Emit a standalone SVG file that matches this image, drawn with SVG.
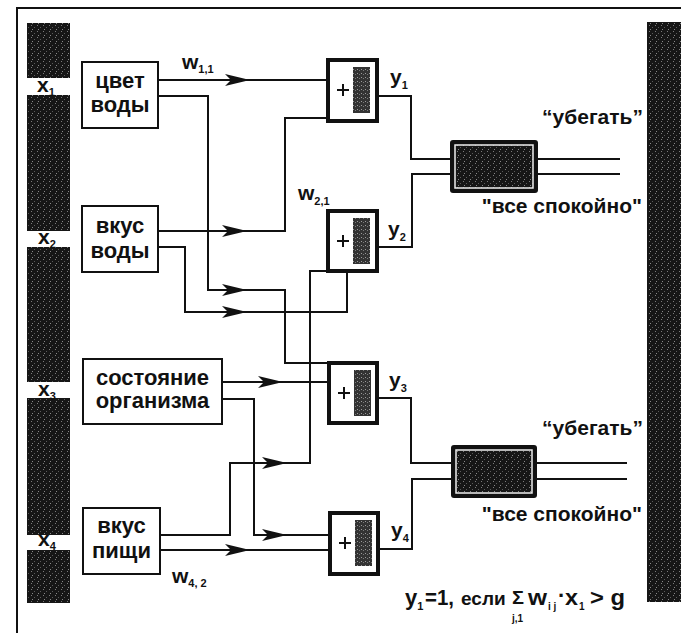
<svg xmlns="http://www.w3.org/2000/svg" width="681" height="633" viewBox="0 0 681 633">
<style>
.t{font-family:"Liberation Sans",Arial,Helvetica,sans-serif;font-weight:bold;fill:#111}
.lbl{font-size:22px;text-anchor:middle}
.big{font-size:21px}
.sub{font-size:11px}
.node{fill:#fff;stroke:#111;stroke-width:2}
.wire{fill:none;stroke:#111;stroke-width:2}
.sum{fill:#fff;stroke:#111;stroke-width:4}
.core{fill:url(#stip2)}
.bar{fill:url(#stip)}
.frame{fill:none;stroke:#111;stroke-width:2}
</style>
<defs>
<pattern id="stip" width="6" height="6" patternUnits="userSpaceOnUse">
<rect width="6" height="6" fill="#161616"/>
<rect x="1" y="1" width="1" height="1" fill="#7a7a7a"/>
<rect x="4" y="3" width="1" height="1" fill="#5a5a5a"/>
<rect x="2" y="5" width="1" height="1" fill="#888"/>
</pattern>
<pattern id="stip2" width="4" height="4" patternUnits="userSpaceOnUse">
<rect width="4" height="4" fill="#333"/>
<rect x="1" y="1" width="1" height="1" fill="#9a9a9a"/>
<rect x="3" y="2" width="1" height="1" fill="#7a7a7a"/>
</pattern>
<path id="arr" d="M0,0 L-25,-6 L-19,0 L-25,6 Z" fill="#111"/>
</defs>

<g id="frame">
<path class="frame" d="M17,633 V8 H681"/>
<rect class="bar" x="647" y="22" width="34" height="580"/>
</g>

<g id="inputs">
<rect class="bar" x="27" y="23" width="43" height="55"/>
<rect class="bar" x="27" y="95" width="43" height="136"/>
<rect class="bar" x="27" y="247" width="43" height="135"/>
<rect class="bar" x="27" y="398" width="43" height="137"/>
<rect class="bar" x="27" y="550" width="43" height="53"/>
<text class="t big" x="37" y="92">x<tspan class="sub" dy="4">1</tspan></text>
<text class="t big" x="38" y="244">x<tspan class="sub" dy="4">2</tspan></text>
<text class="t big" x="38" y="396">x<tspan class="sub" dy="4">3</tspan></text>
<text class="t big" x="38" y="546">x<tspan class="sub" dy="4">4</tspan></text>
</g>

<g id="connectors">
<path class="wire" d="M158,80 H328"/>
<path class="wire" d="M158,96 H208 V290 H285 V363 H329"/>
<path class="wire" d="M158,231 H285 V118 H328"/>
<path class="wire" d="M158,247 H185 V312 H347 V271"/>
<path class="wire" d="M222,382 H329"/>
<path class="wire" d="M222,399 H254 V535 H330"/>
<path class="wire" d="M160,535 H230 V463 H310 V271 H328"/>
<path class="wire" d="M160,550 H330"/>
<path class="wire" d="M377,96 H411 V159 H450"/>
<path class="wire" d="M377,247 H412 V174 H450"/>
<path class="wire" d="M377,398 H411 V463 H451"/>
<path class="wire" d="M378,549 H412 V479 H451"/>
<path class="wire" d="M538,159 H620 M538,174 H620"/>
<path class="wire" d="M537,463 H627 M537,479 H627"/>
<use href="#arr" x="250" y="80"/>
<use href="#arr" x="247" y="231"/>
<use href="#arr" x="247" y="290"/>
<use href="#arr" x="247" y="312"/>
<use href="#arr" x="283" y="382"/>
<use href="#arr" x="287" y="463"/>
<use href="#arr" x="287" y="535"/>
<use href="#arr" x="250" y="550"/>
<text class="t big" x="182" y="69">w<tspan class="sub" dy="4">1,1</tspan></text>
<text class="t big" x="298" y="200">w<tspan class="sub" dy="5">2,1</tspan></text>
<text class="t big" x="172" y="583">w<tspan class="sub" dy="4">4, 2</tspan></text>
</g>

<g id="n-color">
<rect class="node" x="82" y="62" width="76" height="66"/>
<text class="t lbl" x="120" y="88">цвет</text>
<text class="t lbl" x="120" y="112">воды</text>
</g>
<g id="n-taste-water">
<rect class="node" x="82" y="206" width="76" height="66"/>
<text class="t lbl" x="120" y="233">вкус</text>
<text class="t lbl" x="120" y="258">воды</text>
</g>
<g id="n-state">
<rect class="node" x="83" y="359" width="139" height="65"/>
<text class="t lbl" x="152.5" y="385">состояние</text>
<text class="t lbl" x="152.5" y="408">организма</text>
</g>
<g id="n-taste-food">
<rect class="node" x="83" y="508" width="77" height="66"/>
<text class="t lbl" x="121.5" y="533">вкус</text>
<text class="t lbl" x="121.5" y="558">пищи</text>
</g>

<g id="sum1">
<rect class="sum" x="328" y="60" width="49" height="61"/>
<rect class="core" x="353" y="67" width="17" height="46"/>
<path class="wire" d="M337,90 H349 M343,84 V96"/>
<text class="t big" x="390" y="84">y<tspan class="sub" dy="5">1</tspan></text>
</g>
<g id="sum2">
<rect class="sum" x="328" y="211" width="49" height="60"/>
<rect class="core" x="353" y="218" width="17" height="46"/>
<path class="wire" d="M337,241 H349 M343,235 V247"/>
<text class="t big" x="388" y="236">y<tspan class="sub" dy="5">2</tspan></text>
</g>
<g id="sum3">
<rect class="sum" x="329" y="363" width="48" height="60"/>
<rect class="core" x="354" y="370" width="17" height="46"/>
<path class="wire" d="M338,393 H350 M344,387 V399"/>
<text class="t big" x="389" y="387">y<tspan class="sub" dy="5">3</tspan></text>
</g>
<g id="sum4">
<rect class="sum" x="330" y="513" width="48" height="61"/>
<rect class="core" x="355" y="520" width="17" height="46"/>
<path class="wire" d="M339,543 H351 M345,537 V549"/>
<text class="t big" x="391" y="537">y<tspan class="sub" dy="5">4</tspan></text>
</g>

<g id="out1">
<rect x="450" y="140" width="88" height="53" rx="3" fill="#111"/>
<rect x="455" y="145" width="78" height="43" fill="url(#stip)" stroke="#eee" stroke-width="1.5"/>
<text class="t big" x="643" y="124" text-anchor="end">“убегать”</text>
<text class="t big" x="642" y="213" text-anchor="end">"все спокойно"</text>
</g>
<g id="out2">
<rect x="451" y="445" width="86" height="53" rx="3" fill="#111"/>
<rect x="456" y="450" width="76" height="43" fill="url(#stip)" stroke="#eee" stroke-width="1.5"/>
<text class="t big" x="643" y="435" text-anchor="end">“убегать”</text>
<text class="t big" x="642" y="521" text-anchor="end">"все спокойно"</text>
</g>

<g id="formula">
<text class="t" font-size="22" x="405" y="605">y<tspan class="sub" dy="5">1</tspan></text>
<text class="t" font-size="22" x="425" y="605" textLength="29" lengthAdjust="spacingAndGlyphs">=1,</text>
<text class="t" font-size="19" x="461" y="605">если</text>
<text class="t" x="512" y="604" font-size="19" textLength="12" lengthAdjust="spacingAndGlyphs">Σ</text>
<text class="t" x="512" y="622" font-size="10">j,1</text>
<text class="t" font-size="22" x="528" y="605" textLength="19" lengthAdjust="spacingAndGlyphs">w</text>
<text class="t" x="548" y="610" font-size="10">i j</text>
<text class="t" font-size="22" x="558" y="603">·</text>
<text class="t" font-size="22" x="565" y="605" textLength="13" lengthAdjust="spacingAndGlyphs">x</text>
<text class="t" x="579" y="610" font-size="10">1</text>
<text class="t" font-size="22" x="590" y="605" textLength="35" lengthAdjust="spacingAndGlyphs">&gt; g</text>
</g>
</svg>
